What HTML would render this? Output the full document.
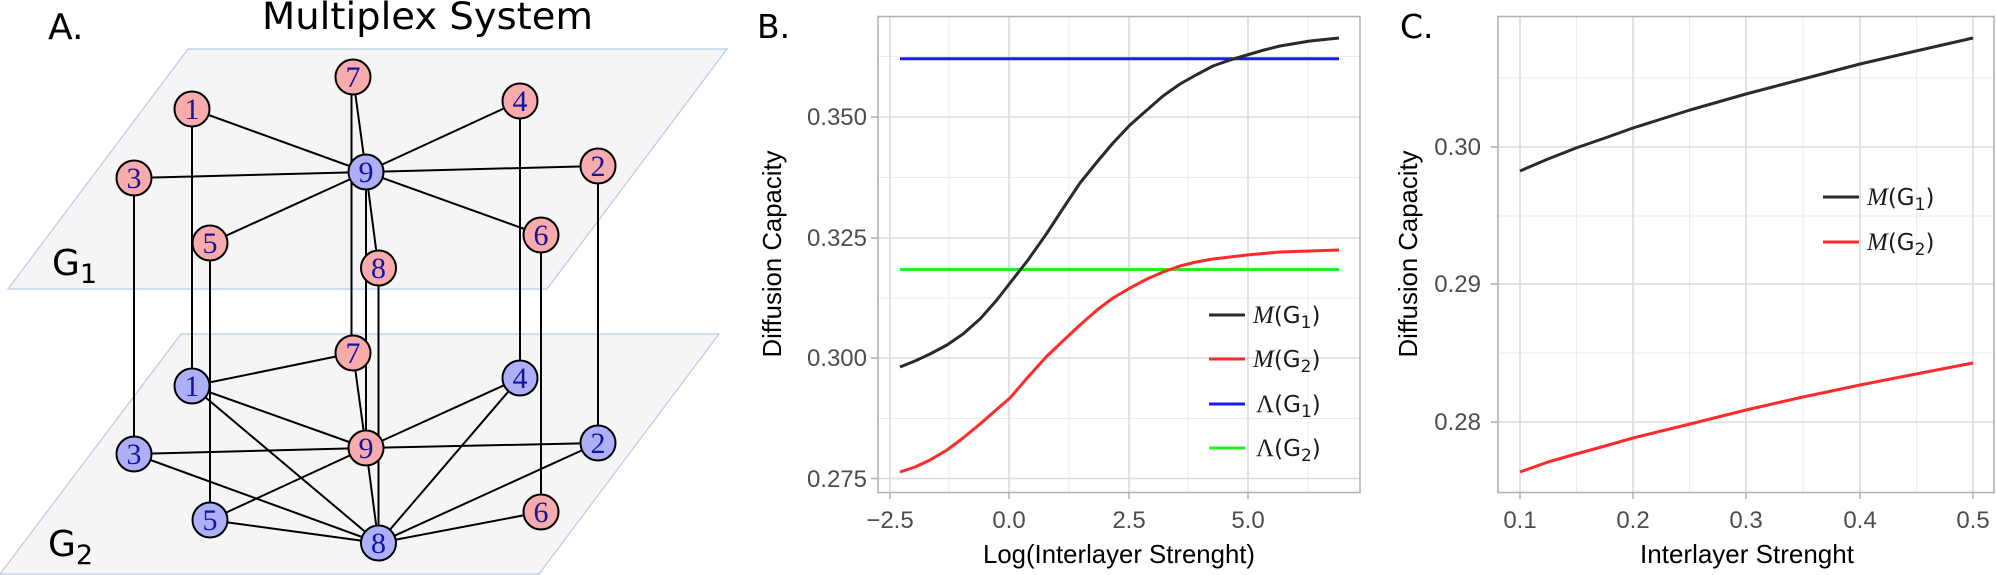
<!DOCTYPE html>
<html><head><meta charset="utf-8"><style>html,body{margin:0;padding:0;background:#fff}svg{display:block}</style></head>
<body>
<svg width="1996" height="575" viewBox="0 0 1996 575" xmlns="http://www.w3.org/2000/svg">
<!-- Panel A -->
<text x="48" y="39" font-family="DejaVu Sans, sans-serif" font-size="36" fill="#000">A.</text>
<text x="262" y="29" font-family="DejaVu Sans, sans-serif" font-size="37" fill="#000" textLength="331" lengthAdjust="spacingAndGlyphs">Multiplex System</text>
<polygon points="188,49 727,49 547,289 8,289" fill="#f5f5f5" stroke="#b9cae3" stroke-width="1.2"/>
<polygon points="181,334 719,334 539,574 0,574" fill="#f5f5f5" stroke="#b9cae3" stroke-width="1.2"/>
<text x="52" y="275" font-family="DejaVu Sans, sans-serif" font-size="36">G<tspan font-size="27" dy="8">1</tspan></text>
<text x="48" y="556" font-family="DejaVu Sans, sans-serif" font-size="36">G<tspan font-size="27" dy="8">2</tspan></text>
<g stroke="#000" stroke-width="2" fill="none">
<line x1="134" y1="178" x2="134" y2="454"/>
<line x1="192" y1="109" x2="192" y2="386"/>
<line x1="210" y1="243" x2="210" y2="520"/>
<line x1="351.5" y1="77" x2="351.5" y2="353"/>
<line x1="366" y1="172" x2="366" y2="448"/>
<line x1="378.5" y1="268" x2="378.5" y2="543"/>
<line x1="520" y1="101" x2="520" y2="378"/>
<line x1="541" y1="235" x2="541" y2="512"/>
<line x1="598" y1="166" x2="598" y2="443"/>
<line x1="192" y1="109" x2="366" y2="172"/>
<line x1="134" y1="178" x2="366" y2="172"/>
<line x1="353" y1="77" x2="366" y2="172"/>
<line x1="520" y1="101" x2="366" y2="172"/>
<line x1="598" y1="166" x2="366" y2="172"/>
<line x1="210" y1="243" x2="366" y2="172"/>
<line x1="541" y1="235" x2="366" y2="172"/>
<line x1="378.5" y1="268" x2="366" y2="172"/>
<line x1="192" y1="386" x2="353" y2="353"/>
<line x1="192" y1="386" x2="366" y2="448"/>
<line x1="192" y1="386" x2="378.5" y2="543"/>
<line x1="134" y1="454" x2="366" y2="448"/>
<line x1="134" y1="454" x2="378.5" y2="543"/>
<line x1="210" y1="520" x2="366" y2="448"/>
<line x1="210" y1="520" x2="378.5" y2="543"/>
<line x1="520" y1="378" x2="366" y2="448"/>
<line x1="520" y1="378" x2="378.5" y2="543"/>
<line x1="598" y1="443" x2="366" y2="448"/>
<line x1="598" y1="443" x2="378.5" y2="543"/>
<line x1="541" y1="512" x2="378.5" y2="543"/>
<line x1="366" y1="448" x2="378.5" y2="543"/>
<line x1="353" y1="353" x2="366" y2="448"/>
</g>
<g stroke="#000" stroke-width="2">
<circle cx="353" cy="77" r="17.5" fill="#f7abab"/>
<circle cx="192" cy="109" r="17.5" fill="#f7abab"/>
<circle cx="520" cy="101" r="17.5" fill="#f7abab"/>
<circle cx="134" cy="178" r="17.5" fill="#f7abab"/>
<circle cx="598" cy="166" r="17.5" fill="#f7abab"/>
<circle cx="366" cy="172" r="17.5" fill="#adb0f7"/>
<circle cx="210" cy="243" r="17.5" fill="#f7abab"/>
<circle cx="541" cy="235" r="17.5" fill="#f7abab"/>
<circle cx="378.5" cy="268" r="17.5" fill="#f7abab"/>
<circle cx="353" cy="353" r="17.5" fill="#f7abab"/>
<circle cx="192" cy="386" r="17.5" fill="#adb0f7"/>
<circle cx="520" cy="378" r="17.5" fill="#adb0f7"/>
<circle cx="134" cy="454" r="17.5" fill="#adb0f7"/>
<circle cx="598" cy="443" r="17.5" fill="#adb0f7"/>
<circle cx="366" cy="448" r="17.5" fill="#f7abab"/>
<circle cx="210" cy="520" r="17.5" fill="#adb0f7"/>
<circle cx="541" cy="512" r="17.5" fill="#f7abab"/>
<circle cx="378.5" cy="543" r="17.5" fill="#adb0f7"/>
</g>
<g font-family="Liberation Serif, serif" font-size="30" fill="#1414a0" text-anchor="middle">
<text x="353" y="87">7</text><text x="192" y="119">1</text><text x="520" y="111">4</text>
<text x="134" y="188">3</text><text x="598" y="176">2</text><text x="366" y="182">9</text>
<text x="210" y="253">5</text><text x="541" y="245">6</text><text x="378.5" y="278">8</text>
<text x="353" y="363">7</text><text x="192" y="396">1</text><text x="520" y="388">4</text>
<text x="134" y="464">3</text><text x="598" y="453">2</text><text x="366" y="458">9</text>
<text x="210" y="530">5</text><text x="541" y="522">6</text><text x="378.5" y="553">8</text>
</g>

<!-- Panel B -->
<text x="757" y="38" font-family="DejaVu Sans, sans-serif" font-size="33">B.</text>
<g stroke="#ebebeb" stroke-width="1">
<line x1="878" y1="56.5" x2="1360" y2="56.5"/><line x1="878" y1="177.5" x2="1360" y2="177.5"/>
<line x1="878" y1="298" x2="1360" y2="298"/><line x1="878" y1="418.5" x2="1360" y2="418.5"/>
<line x1="949" y1="16.5" x2="949" y2="492.5"/><line x1="1069" y1="16.5" x2="1069" y2="492.5"/>
<line x1="1188" y1="16.5" x2="1188" y2="492.5"/><line x1="1308" y1="16.5" x2="1308" y2="492.5"/>
</g>
<g stroke="#dcdcdc" stroke-width="1.6">
<line x1="878" y1="117" x2="1360" y2="117"/><line x1="878" y1="238" x2="1360" y2="238"/>
<line x1="878" y1="358" x2="1360" y2="358"/><line x1="878" y1="478.5" x2="1360" y2="478.5"/>
<line x1="890" y1="16.5" x2="890" y2="492.5"/><line x1="1009" y1="16.5" x2="1009" y2="492.5"/>
<line x1="1129" y1="16.5" x2="1129" y2="492.5"/><line x1="1248" y1="16.5" x2="1248" y2="492.5"/>
</g>
<rect x="878" y="16.5" width="482" height="476" fill="none" stroke="#b3b3b3" stroke-width="1.6"/>
<g stroke="#b3b3b3" stroke-width="1.6">
<line x1="871" y1="117" x2="878" y2="117"/><line x1="871" y1="238" x2="878" y2="238"/><line x1="871" y1="358" x2="878" y2="358"/><line x1="871" y1="478.5" x2="878" y2="478.5"/>
<line x1="890" y1="492.5" x2="890" y2="499"/><line x1="1009" y1="492.5" x2="1009" y2="499"/><line x1="1129" y1="492.5" x2="1129" y2="499"/><line x1="1248" y1="492.5" x2="1248" y2="499"/>
</g>
<g font-family="Liberation Sans, sans-serif" font-size="24" fill="#4d4d4d" text-anchor="end">
<text x="867" y="125">0.350</text><text x="867" y="246">0.325</text><text x="867" y="366">0.300</text><text x="867" y="487">0.275</text>
</g>
<g font-family="Liberation Sans, sans-serif" font-size="24" fill="#4d4d4d" text-anchor="middle">
<text x="890" y="528">−2.5</text><text x="1009" y="528">0.0</text><text x="1129" y="528">2.5</text><text x="1248" y="528">5.0</text>
</g>
<text x="1119" y="563" font-family="Liberation Sans, sans-serif" font-size="26" text-anchor="middle" textLength="272" lengthAdjust="spacingAndGlyphs">Log(Interlayer Strenght)</text>
<text transform="translate(781,254) rotate(-90)" font-family="Liberation Sans, sans-serif" font-size="26" text-anchor="middle" textLength="207" lengthAdjust="spacingAndGlyphs">Diffusion Capacity</text>
<line x1="900" y1="58.7" x2="1339" y2="58.7" stroke="#1a1aff" stroke-width="3"/>
<line x1="900" y1="269.5" x2="1339" y2="269.5" stroke="#22ee22" stroke-width="3"/>
<polyline fill="none" stroke="#2a2a2a" stroke-width="3" stroke-linejoin="round" points="900,367 915,361 930,354 947,345 963,334 980,319 996,301 1010,283 1028,260 1047,233 1064,207 1080,183 1097,162 1113,143 1130,125 1147,110 1163,96 1180,84 1196,75 1213,66 1230,60 1247,55 1264,50 1280,46 1310,41 1339,38"/>
<polyline fill="none" stroke="#ff2a2a" stroke-width="3" stroke-linejoin="round" points="900,472 915,467 930,460 947,450 963,438 980,424 996,410 1010,398 1028,377 1047,356 1064,340 1080,325 1097,310 1113,298 1130,288 1147,279 1163,272 1180,266 1196,262 1213,259 1230,257 1247,255 1280,252 1310,251 1339,250"/>
<g stroke-width="3">
<line x1="1209" y1="315" x2="1245" y2="315" stroke="#2a2a2a"/>
<line x1="1209" y1="359" x2="1245" y2="359" stroke="#ff2a2a"/>
<line x1="1209" y1="404" x2="1245" y2="404" stroke="#1a1aff"/>
<line x1="1209" y1="448" x2="1245" y2="448" stroke="#22ee22"/>
</g>
<g font-family="DejaVu Sans, sans-serif" font-size="23" fill="#1a1a1a">
<text x="1253" y="323"><tspan font-family="Liberation Serif, serif" font-style="italic" font-size="25">M</tspan>(G<tspan font-size="17" dy="5">1</tspan><tspan dy="-5">)</tspan></text>
<text x="1253" y="367"><tspan font-family="Liberation Serif, serif" font-style="italic" font-size="25">M</tspan>(G<tspan font-size="17" dy="5">2</tspan><tspan dy="-5">)</tspan></text>
<text x="1256" y="412"><tspan font-family="Liberation Serif, serif" font-size="25">Λ</tspan>(G<tspan font-size="17" dy="5">1</tspan><tspan dy="-5">)</tspan></text>
<text x="1256" y="456"><tspan font-family="Liberation Serif, serif" font-size="25">Λ</tspan>(G<tspan font-size="17" dy="5">2</tspan><tspan dy="-5">)</tspan></text>
</g>

<!-- Panel C -->
<text x="1400" y="38" font-family="DejaVu Sans, sans-serif" font-size="33">C.</text>
<g stroke="#ebebeb" stroke-width="1">
<line x1="1498" y1="78" x2="1994" y2="78"/><line x1="1498" y1="216" x2="1994" y2="216"/><line x1="1498" y1="353" x2="1994" y2="353"/>
<line x1="1576.5" y1="16.5" x2="1576.5" y2="492.5"/><line x1="1689.5" y1="16.5" x2="1689.5" y2="492.5"/>
<line x1="1803" y1="16.5" x2="1803" y2="492.5"/><line x1="1916.5" y1="16.5" x2="1916.5" y2="492.5"/>
</g>
<g stroke="#dcdcdc" stroke-width="1.6">
<line x1="1498" y1="147" x2="1994" y2="147"/><line x1="1498" y1="284" x2="1994" y2="284"/><line x1="1498" y1="422" x2="1994" y2="422"/>
<line x1="1520" y1="16.5" x2="1520" y2="492.5"/><line x1="1633" y1="16.5" x2="1633" y2="492.5"/><line x1="1746" y1="16.5" x2="1746" y2="492.5"/>
<line x1="1860" y1="16.5" x2="1860" y2="492.5"/><line x1="1973" y1="16.5" x2="1973" y2="492.5"/>
</g>
<rect x="1498" y="16.5" width="496" height="476" fill="none" stroke="#b3b3b3" stroke-width="1.6"/>
<g stroke="#b3b3b3" stroke-width="1.6">
<line x1="1491" y1="147" x2="1498" y2="147"/><line x1="1491" y1="284" x2="1498" y2="284"/><line x1="1491" y1="422" x2="1498" y2="422"/>
<line x1="1520" y1="492.5" x2="1520" y2="499"/><line x1="1633" y1="492.5" x2="1633" y2="499"/><line x1="1746" y1="492.5" x2="1746" y2="499"/><line x1="1860" y1="492.5" x2="1860" y2="499"/><line x1="1973" y1="492.5" x2="1973" y2="499"/>
</g>
<g font-family="Liberation Sans, sans-serif" font-size="24" fill="#4d4d4d" text-anchor="end">
<text x="1481" y="155">0.30</text><text x="1481" y="292">0.29</text><text x="1481" y="430">0.28</text>
</g>
<g font-family="Liberation Sans, sans-serif" font-size="24" fill="#4d4d4d" text-anchor="middle">
<text x="1520" y="528">0.1</text><text x="1633" y="528">0.2</text><text x="1746" y="528">0.3</text><text x="1860" y="528">0.4</text><text x="1973" y="528">0.5</text>
</g>
<text x="1747" y="563" font-family="Liberation Sans, sans-serif" font-size="26" text-anchor="middle">Interlayer Strenght</text>
<text transform="translate(1417,254) rotate(-90)" font-family="Liberation Sans, sans-serif" font-size="26" text-anchor="middle" textLength="207" lengthAdjust="spacingAndGlyphs">Diffusion Capacity</text>
<polyline fill="none" stroke="#2a2a2a" stroke-width="3" stroke-linejoin="round" points="1520,171 1548,159 1576,148 1605,138 1633,128 1690,110 1746,94 1803,79 1860,64 1916,51 1973,38"/>
<polyline fill="none" stroke="#ff2a2a" stroke-width="3" stroke-linejoin="round" points="1520,472 1548,462 1576,454 1605,446 1633,438 1690,424 1746,410 1803,397 1860,385 1916,374 1973,363"/>
<g stroke-width="3">
<line x1="1823" y1="197" x2="1859" y2="197" stroke="#2a2a2a"/>
<line x1="1823" y1="242" x2="1859" y2="242" stroke="#ff2a2a"/>
</g>
<g font-family="DejaVu Sans, sans-serif" font-size="23" fill="#1a1a1a">
<text x="1867" y="205"><tspan font-family="Liberation Serif, serif" font-style="italic" font-size="25">M</tspan>(G<tspan font-size="17" dy="5">1</tspan><tspan dy="-5">)</tspan></text>
<text x="1867" y="250"><tspan font-family="Liberation Serif, serif" font-style="italic" font-size="25">M</tspan>(G<tspan font-size="17" dy="5">2</tspan><tspan dy="-5">)</tspan></text>
</g>
</svg>
</body></html>
